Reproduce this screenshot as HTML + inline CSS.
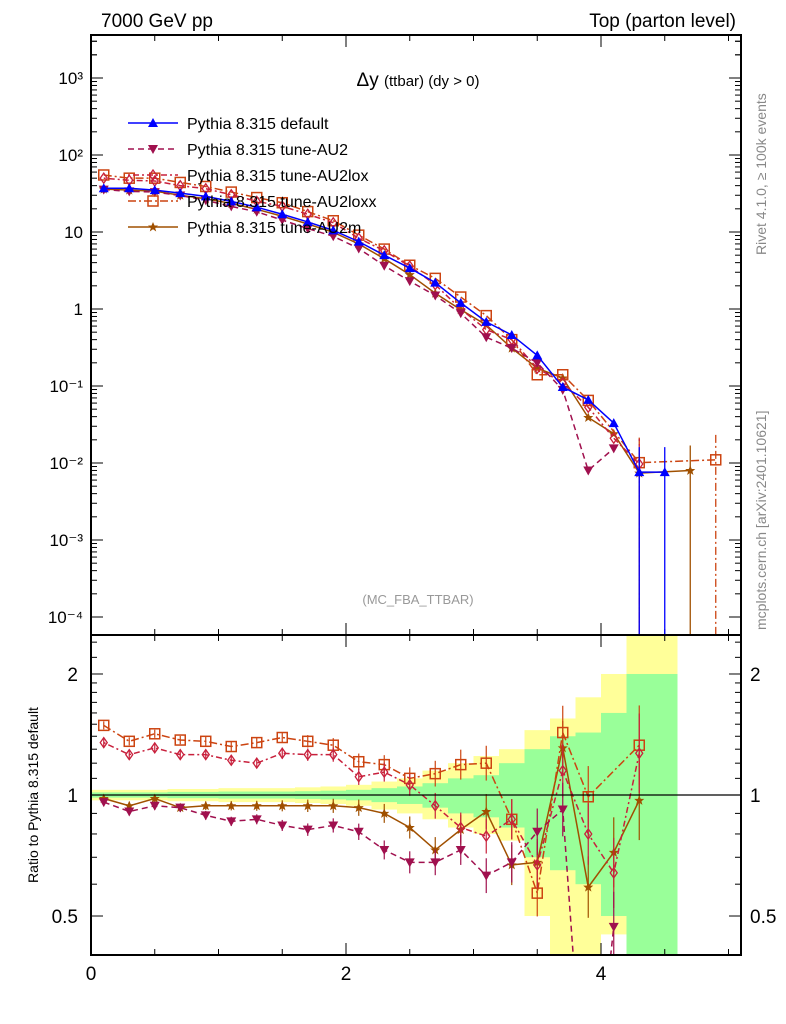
<!DOCTYPE html>
<html><head><meta charset="utf-8"><style>
html,body{margin:0;padding:0;background:#fff;width:786px;height:1024px;overflow:hidden;}
svg{display:block;font-family:"Liberation Sans",sans-serif;}
</style></head><body>
<svg id="chart" width="786" height="1024" xmlns="http://www.w3.org/2000/svg">
<rect width="786" height="1024" fill="#fff"/>
<g id="bands"></g>
<g id="ticks"></g>
<g id="series"></g>
<rect x="91" y="35" width="650" height="600" fill="none" stroke="#000" stroke-width="2"/>
<rect x="91" y="635" width="650" height="320" fill="none" stroke="#000" stroke-width="2"/>
<line x1="91" x2="741" y1="795" y2="795" stroke="#000" stroke-width="1.2"/>
<text x="101" y="27" font-size="19">7000 GeV pp</text>
<text x="736" y="27" font-size="19" text-anchor="end">Top (parton level)</text>
<text x="418" y="86" font-size="19" text-anchor="middle">Δy <tspan font-size="15">(ttbar) (dy &gt; 0)</tspan></text>
<text x="418" y="604" font-size="13" fill="#999" text-anchor="middle">(MC_FBA_TTBAR)</text>
<text transform="translate(766,255) rotate(-90)" font-size="14" fill="#888">Rivet 4.1.0, ≥ 100k events</text>
<text transform="translate(766,630) rotate(-90)" font-size="14" fill="#888">mcplots.cern.ch [arXiv:2401.10621]</text>
<text transform="translate(38,795) rotate(-90)" font-size="14" text-anchor="middle">Ratio to Pythia 8.315 default</text>
<g id="legend"></g>
</svg>
<script>
const xCenters=[0.1,0.3,0.5,0.7,0.9,1.1,1.3,1.5,1.7,1.9,2.1,2.3,2.5,2.7,2.9,3.1,3.3,3.5,3.7,3.9,4.1,4.3,4.5,4.7,4.9];
const mainDefault=[37,37,35,32,29,25,21,17,13.5,10.5,7.5,5.0,3.4,2.2,1.2,0.68,0.46,0.25,0.097,0.066,0.033,0.0076,0.0076,null,null];
const mainAU2=[35.5,33.7,33,29.8,25.8,21.5,18.3,14.3,11.1,8.8,6.1,3.65,2.3,1.5,0.88,0.43,0.31,0.2,0.089,0.008,0.0155,null,null,null,null];
const mainAU2lox=[50,47,46,40,36.5,30.5,25,21.6,17,13.2,8.3,5.7,3.6,2.07,1.0,0.54,0.4,0.17,0.11,0.053,0.021,0.0097,null,null,null];
const mainAU2loxx=[55,50,50,44,39,33,28,24,18.4,14,9.1,6.0,3.7,2.5,1.43,0.82,0.4,0.14,0.14,0.065,null,0.0101,null,null,0.011];
const mainAU2m=[36,35,34,30,27,23.5,19.7,16,12.7,9.9,7.0,4.5,2.8,1.6,0.98,0.62,0.31,0.17,0.127,0.039,0.024,0.0074,null,0.008,null];
const ratioAU2=[0.96,0.91,0.94,0.93,0.89,0.86,0.87,0.84,0.82,0.84,0.81,0.73,0.68,0.68,0.73,0.63,0.68,0.81,0.92,0.12,0.47,null];
const ratioAU2lox=[1.35,1.26,1.31,1.26,1.26,1.22,1.2,1.27,1.26,1.26,1.11,1.14,1.06,0.94,0.83,0.79,0.87,0.67,1.15,0.8,0.64,1.27];
const ratioAU2loxx=[1.49,1.36,1.42,1.37,1.36,1.32,1.35,1.39,1.36,1.33,1.21,1.19,1.1,1.13,1.19,1.2,0.87,0.57,1.43,0.99,null,1.33];
const ratioAU2m=[0.98,0.94,0.98,0.93,0.94,0.94,0.94,0.94,0.94,0.94,0.93,0.9,0.83,0.73,0.82,0.91,0.67,0.68,1.31,0.59,0.72,0.97];
const yellowHi=[1.03,1.03,1.03,1.035,1.035,1.04,1.04,1.04,1.045,1.05,1.06,1.08,1.1,1.15,1.2,1.25,1.3,1.45,1.55,1.75,2.0,3,3];
const yellowLo=[0.97,0.97,0.97,0.965,0.965,0.96,0.96,0.96,0.955,0.95,0.94,0.92,0.9,0.87,0.83,0.8,0.77,0.5,0.3,0.3,0.45,0.3,0.3];
const greenHi=[1.015,1.015,1.015,1.018,1.018,1.02,1.02,1.02,1.022,1.025,1.03,1.04,1.05,1.07,1.1,1.12,1.2,1.3,1.4,1.43,1.6,2.0,2.0];
const greenLo=[0.985,0.985,0.985,0.982,0.982,0.98,0.98,0.98,0.978,0.975,0.97,0.96,0.95,0.93,0.9,0.88,0.83,0.7,0.65,0.6,0.5,0.3,0.3];
const mainYTicks=["10³","10²","10","1","10⁻¹","10⁻²","10⁻³","10⁻⁴"];
const mainYTickExp=[3,2,1,0,-1,-2,-3,-4];
const ratioTickVals=[2,1,0.5];
const xTickVals=[0,2,4];
const NS="http://www.w3.org/2000/svg";
const X=v=>91+127.5*v;
const Ym=v=>309-77*Math.log10(v);
const Yr=v=>Math.max(635,Math.min(955,795-402*Math.log10(v)));
function mk(tag,attrs,parent){const e=document.createElementNS(NS,tag);for(const k in attrs)e.setAttribute(k,attrs[k]);parent.appendChild(e);return e;}
const bands=document.getElementById('bands');
for(let i=0;i<yellowHi.length;i++){
  const x0=X(i*0.2),w=127.5*0.2;
  let r=mk('rect',{x:x0,y:Yr(yellowHi[i]),width:w,height:Yr(yellowLo[i])-Yr(yellowHi[i]),fill:'#ffff99'},bands);
  
  
  r=mk('rect',{x:x0,y:Yr(greenHi[i]),width:w,height:Yr(greenLo[i])-Yr(greenHi[i]),fill:'#99ff99'},bands);
  
  
}
const tk=document.getElementById('ticks');
mainYTickExp.forEach((e,i)=>{
  const y=Ym(Math.pow(10,e));
  mk('line',{x1:91,x2:103,y1:y,y2:y,stroke:'#000'},tk);mk('line',{x1:741,x2:729,y1:y,y2:y,stroke:'#000'},tk);
  for(let m=2;m<10;m++){const yy=Ym(m*Math.pow(10,e));if(yy>35&&yy<635){mk('line',{x1:91,x2:97,y1:yy,y2:yy,stroke:'#000'},tk);mk('line',{x1:741,x2:735,y1:yy,y2:yy,stroke:'#000'},tk);}}
  const t=mk('text',{x:83,y:y+6,'font-size':17,'text-anchor':'end'},tk);t.textContent=mainYTicks[i];
  
  
});
for(let m=2;m<10;m++){const yy=Ym(m*1000);if(yy>35){mk('line',{x1:91,x2:97,y1:yy,y2:yy,stroke:'#000'},tk);mk('line',{x1:741,x2:735,y1:yy,y2:yy,stroke:'#000'},tk);}}
ratioTickVals.forEach(v=>{
  const y=Yr(v);
  mk('line',{x1:91,x2:103,y1:y,y2:y,stroke:'#000'},tk);mk('line',{x1:741,x2:729,y1:y,y2:y,stroke:'#000'},tk);
  let t=mk('text',{x:78,y:y+7,'font-size':19,'text-anchor':'end'},tk);t.textContent=String(v);
  
  
  t=mk('text',{x:750,y:y+7,'font-size':19},tk);t.textContent=String(v);
  
  
});
[0.6,0.7,0.8,0.9,1.1,1.2,1.3,1.4,1.5,1.6,1.7,1.8,1.9,2.2,2.4].forEach(v=>{const y=Yr(v);if(y>636&&y<954){mk('line',{x1:91,x2:97,y1:y,y2:y,stroke:'#000'},tk);mk('line',{x1:741,x2:735,y1:y,y2:y,stroke:'#000'},tk);}});
for(let v=0;v<=5.01;v+=0.5){const x=X(v);const L=(Math.abs(v%2)<0.01)?12:6;
  mk('line',{x1:x,x2:x,y1:955,y2:955-L,stroke:'#000'},tk);mk('line',{x1:x,x2:x,y1:635,y2:635-L,stroke:'#000'},tk);mk('line',{x1:x,x2:x,y1:35,y2:35+L,stroke:'#000'},tk);mk('line',{x1:x,x2:x,y1:635,y2:635+L,stroke:'#000'},tk);}
xTickVals.forEach(v=>{const t=mk('text',{x:X(v),y:980,'font-size':19,'text-anchor':'middle'},tk);t.textContent=String(v);
  
  });
const S=[
 {name:'Pythia 8.315 default',main:mainDefault,ratio:null,color:'#0000ff',dash:'',mk:'tri'},
 {name:'Pythia 8.315 tune-AU2',main:mainAU2,ratio:ratioAU2,color:'#a0104e',dash:'6,4',mk:'tridown'},
 {name:'Pythia 8.315 tune-AU2lox',main:mainAU2lox,ratio:ratioAU2lox,color:'#c8203c',dash:'2,3,6,3',mk:'diamond'},
 {name:'Pythia 8.315 tune-AU2loxx',main:mainAU2loxx,ratio:ratioAU2loxx,color:'#cc4411',dash:'8,3,2,3',mk:'square'},
 {name:'Pythia 8.315 tune-AU2m',main:mainAU2m,ratio:ratioAU2m,color:'#a05000',dash:'',mk:'star'}];
function marker(type,x,y,c,g){
  if(type==='tri')return mk('path',{d:`M${x-5},${y+4}L${x+5},${y+4}L${x},${y-5}Z`,fill:c},g);
  if(type==='tridown')return mk('path',{d:`M${x-5},${y-4}L${x+5},${y-4}L${x},${y+5}Z`,fill:c},g);
  if(type==='diamond')return mk('path',{d:`M${x},${y-5}L${x+3.5},${y}L${x},${y+5}L${x-3.5},${y}Z`,fill:'none',stroke:c,'stroke-width':1.3},g);
  if(type==='square')return mk('rect',{x:x-5,y:y-5,width:10,height:10,fill:'none',stroke:c,'stroke-width':1.5},g);
  return mk('path',{d:`M${x},${y-5}L${x+1.5},${y-1.5}L${x+5},${y-1.5}L${x+2.2},${y+1}L${x+3.2},${y+4.5}L${x},${y+2.3}L${x-3.2},${y+4.5}L${x-2.2},${y+1}L${x-5},${y-1.5}L${x-1.5},${y-1.5}Z`,fill:c},g);
}
const sg=document.getElementById('series');
const clipDef=mk('defs',{},sg);
const cp1=mk('clipPath',{id:'cm'},clipDef);mk('rect',{x:91,y:35,width:650,height:600},cp1);
const cp2=mk('clipPath',{id:'cr'},clipDef);mk('rect',{x:91,y:635,width:650,height:320},cp2);
S.slice().reverse().forEach(s=>{
  const g=mk('g',{'clip-path':'url(#cm)'},sg);
  
  
  let pts=[];s.main.forEach((v,i)=>{if(v!=null)pts.push([X(xCenters[i]),Ym(v)]);});
  mk('polyline',{points:pts.map(p=>p.join(',')).join(' '),fill:'none',stroke:s.color,'stroke-width':1.5,'stroke-dasharray':s.dash},g);
  s.main.forEach((v,i)=>{if(v!=null){const x=X(xCenters[i]),y=Ym(v);
    if(xCenters[i]>4.2&&v<0.012)mk('line',{x1:x,x2:x,y1:y-25,y2:640,stroke:s.color,'stroke-width':1.3,'stroke-dasharray':s.dash},g);
    const m=marker(s.mk,x,y,s.color,g);
    
    }});
  if(s.ratio){
    const rg=mk('g',{'clip-path':'url(#cr)'},sg);
    
    
    let rp=[];s.ratio.forEach((v,i)=>{if(v!=null)rp.push([X(xCenters[i]),795-402*Math.log10(v)]);});
    mk('polyline',{points:rp.map(p=>p.join(',')).join(' '),fill:'none',stroke:s.color,'stroke-width':1.5,'stroke-dasharray':s.dash},rg);
    s.ratio.forEach((v,i)=>{if(v!=null){const x=X(xCenters[i]),y=795-402*Math.log10(v);
      const e=Math.min(40,4+Math.pow(xCenters[i],3)*0.45);
      mk('line',{x1:x,x2:x,y1:y-e,y2:y+e,stroke:s.color,'stroke-width':1.2},rg);
      const m=marker(s.mk,x,y,s.color,rg);
      
      }});
  }
});
const lg=document.getElementById('legend');
S.forEach((s,i)=>{
  const y=123+26*i;
  const g=mk('g',{},lg);
  
  
  mk('line',{x1:128,x2:178,y1:y,y2:y,stroke:s.color,'stroke-width':1.5,'stroke-dasharray':s.dash},g);
  marker(s.mk,153,y,s.color,g);
  const t=mk('text',{x:187,y:y+6,'font-size':16},g);t.textContent=s.name;
});
</script>
</body></html>
